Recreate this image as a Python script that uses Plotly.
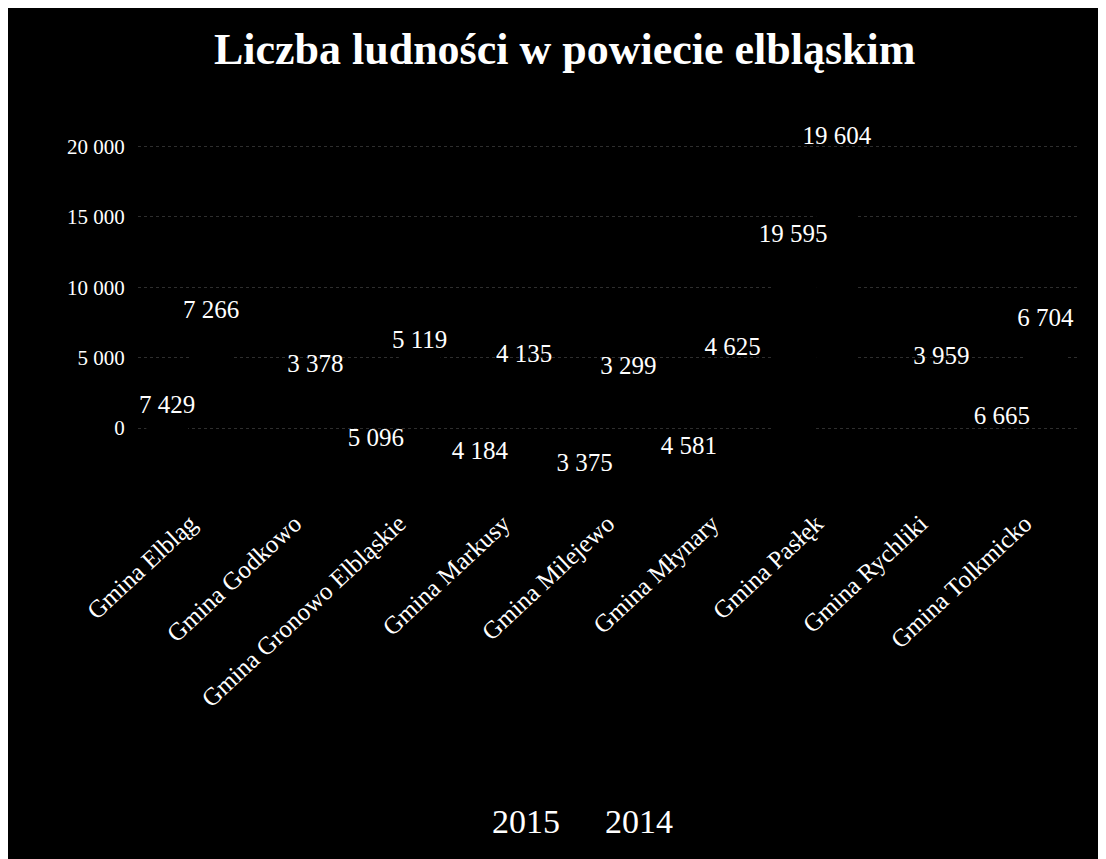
import plotly.graph_objects as go

# ---- data ----
categories = ["Gmina Elbląg", "Gmina Godkowo", "Gmina Gronowo Elbląskie",
              "Gmina Markusy", "Gmina Milejewo", "Gmina Młynary",
              "Gmina Pasłęk", "Gmina Rychliki", "Gmina Tolkmicko"]
pop_2015 = [7429, None, 5096, 4184, 3375, 4581, 19595, None, 6665]
pop_2014 = [7266, 3378, 5119, 4135, 3299, 4625, 19604, 3959, 6704]
series_names = ["2015", "2014"]
y_ticks = [0, 5000, 10000, 15000, 20000]

# ---- geometry / styling ----
# the page body keeps its default 8px margin, which leaves the thin white
# border seen on the scanned reference; the figure fills the rest.
W, H = 1098, 851
M_L, M_R, M_T, M_B = 130, 29, 102, 356
PLOT_H = H - M_T - M_B                 # 393 px
PX_PER_UNIT = 0.014075                 # vertical scale (pixels per inhabitant)
ZERO_BACK = 420 - M_T                  # px from plot top to value 0 (2014 row / ticks)
ZERO_FRONT = 518 - M_T                 # px from plot top to value 0 (2015 row)
SERIF = "Liberation Serif"

y_hi = ZERO_BACK / PX_PER_UNIT
y_lo = y_hi - PLOT_H / PX_PER_UNIT
y2_hi = ZERO_FRONT / PX_PER_UNIT
y2_lo = y2_hi - PLOT_H / PX_PER_UNIT

fig = go.Figure()
common = dict(
    x=categories,
    marker=dict(color="black", line=dict(width=0)),
    texttemplate="%{y:,}",
    textposition="outside",
    textangle=0,
    constraintext="none",
    cliponaxis=False,
    textfont=dict(family=SERIF, size=25, color="white"),
    width=0.4,
    hoverinfo="skip",
)
fig.add_trace(go.Bar(name=series_names[0], y=pop_2015, yaxis="y2", offset=-0.42, **common))
fig.add_trace(go.Bar(name=series_names[1], y=pop_2014, yaxis="y", offset=0.0, **common))

fig.update_layout(
    width=W, height=H,
    margin=dict(l=M_L, r=M_R, t=M_T, b=M_B, autoexpand=False),
    paper_bgcolor="black",
    plot_bgcolor="black",
    separators=", ",
    font=dict(family=SERIF, color="white"),
    title=dict(text="<b>Liczba ludności w powiecie elbląskim</b>",
               x=0.507, xanchor="center", xref="container",
               y=0.952, yanchor="middle", yref="container",
               font=dict(family=SERIF, size=44, color="white")),
    xaxis=dict(range=[-0.5, len(categories) - 0.5], tickangle=-43,
               tickfont=dict(family=SERIF, size=25, color="white"),
               showgrid=False, showline=False, zeroline=False, ticks="",
               automargin=False),
    yaxis=dict(range=[y_lo, y_hi], tickvals=y_ticks, tickformat=",",
               tickfont=dict(family=SERIF, size=21, color="white"),
               showgrid=True, gridcolor="#2e2e2e", griddash="dot", gridwidth=1,
               zeroline=False, showline=False, ticks="outside", ticklen=8,
               tickcolor="black", automargin=False),
    yaxis2=dict(range=[y2_lo, y2_hi], overlaying="y", visible=False),
    barmode="overlay",
    showlegend=True,
    legend=dict(orientation="h", xref="container", yref="container",
                x=0.5073, xanchor="center", y=0.0458, yanchor="middle",
                font=dict(family=SERIF, size=34, color="white"),
                bgcolor="rgba(0,0,0,0)", traceorder="normal"),
)

fig.write_html("out.html")
